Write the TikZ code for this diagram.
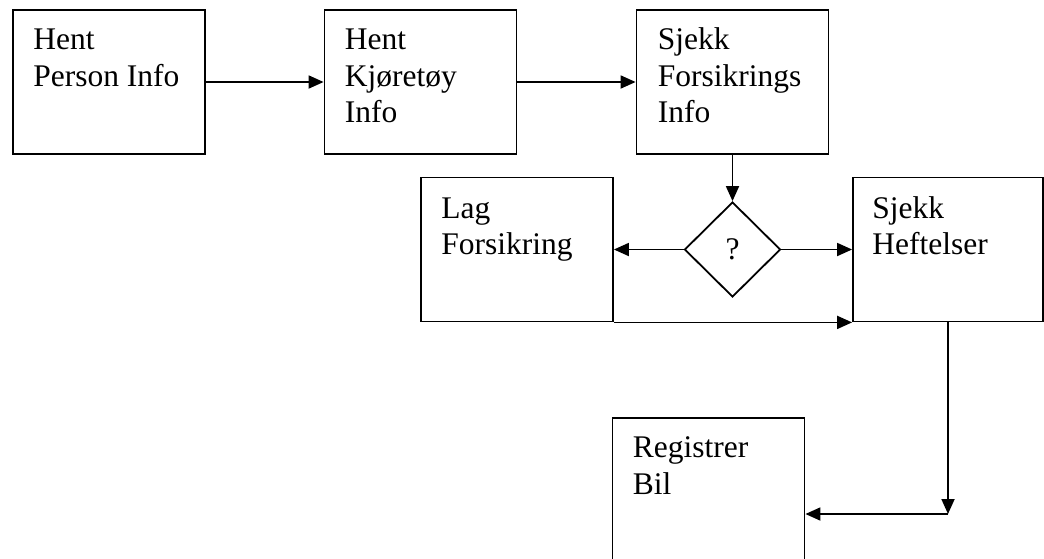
\documentclass[tikz,border=0pt]{standalone}
\usepackage{fontspec}
\setmainfont{Liberation Serif}
\usetikzlibrary{positioning,shapes.geometric,arrows.meta}

\begin{document}
\begin{tikzpicture}[x=1pt,y=1pt,
  box/.style={draw,line width=1.8pt,minimum width=192pt,minimum height=144pt,inner sep=0pt},
  cond/.style={diamond,draw,line width=1.8pt,minimum width=96pt,minimum height=95pt,inner sep=0pt,
    font=\fontsize{31.5}{36.4}\selectfont},
  txt/.style={align=left,inner sep=0pt,font=\fontsize{31.5}{36.4}\selectfont},
  arr/.style={line width=1.8pt,-{Triangle[length=15pt,width=13pt]}}]
\clip (0,0) rectangle (1044,-558);
\fill[white] (0,0) rectangle (1044,-558);

% top row
\node[box] (person) at (109,-82) {};
\node[box] (vehicle) at (420.5,-82) {};
\node[box] (insurance) at (732.5,-82) {};
% middle row
\node[box] (create) at (517,-249.5) {};
\node[cond] (check) at (732.5,-249.5) {?};
\node[box,minimum width=190pt] (liens) at (948,-249.5) {};
% bottom
\node[box] (register) at (708.5,-490) {};

\node[txt,below right=15pt and 21pt of person.north west] (person-t) {\strut Hent\\Person Info};
\node[txt,below right=15pt and 21pt of vehicle.north west] (vehicle-t) {\strut Hent\\Kjøretøy\\Info};
\node[txt,below right=15pt and 22pt of insurance.north west] (insurance-t) {\strut Sjekk\\Forsikrings\\Info};
\node[txt,below right=16pt and 21pt of create.north west] (create-t) {\strut Lag\\Forsikring};
\node[txt,below right=16pt and 20pt of liens.north west] (liens-t) {\strut Sjekk\\Heftelser};
\node[txt,below right=15pt and 21pt of register.north west] (register-t) {\strut Registrer\\Bil};

\draw[arr] (person) -- (vehicle);
\draw[arr] (vehicle) -- (insurance);
\draw[arr] (insurance) -- (check);
\draw[arr] (check.west) -- (create.east);
\draw[arr] (check.east) -- (liens.west);
\draw[arr] (create.south east) -- (liens.south west);
\coordinate (bend) at (948,-514);
\draw[arr] (liens.south) -- (bend);
\draw[arr] (bend) -- (register.east |- bend);
\end{tikzpicture}
\end{document}
